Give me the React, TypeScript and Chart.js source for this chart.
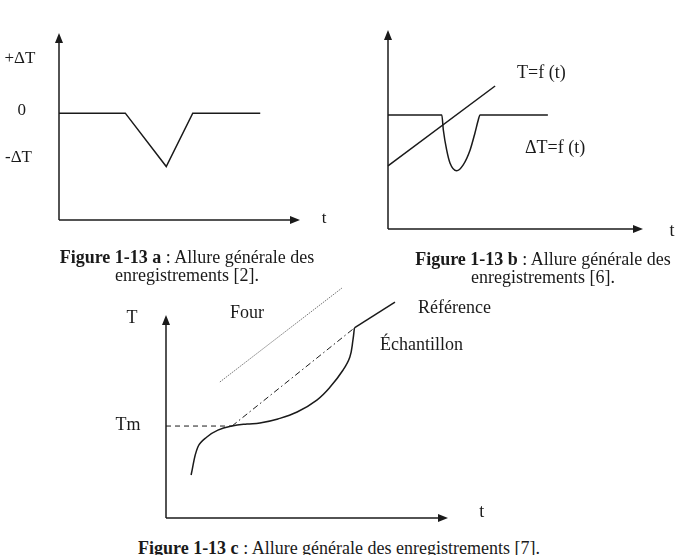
import React, { useEffect, useRef } from 'react';
import { Chart, registerables } from 'chart.js';
Chart.register(...registerables);

const FONT = '"Liberation Serif", "Times New Roman", serif';
const INK = '#1a1a1a';

// ---------- Figure 1-13 a ----------
const tA = [0, 2.75, 4.45, 5.55, 8.35];
const dTA = [0, 0, -2, 0, 0];
const labelsA = ['+ΔT', '0', '-ΔT', 't'];
const labelXA = [-1.62, -1.55, -1.68, 11.0];
const labelYA = [2.05, 0.1, -1.65, -3.95];

// ---------- Figure 1-13 b ----------
const tB = [0, 2.11, 2.17, 2.3, 2.43, 2.69, 2.95, 3.22, 3.41, 3.54, 3.61, 6.27];
const dTB = [0, 0, -0.57, -1.32, -1.81, -2.1, -1.88, -1.32, -0.68, -0.19, 0, 0];
const tLineB = [0, 4.2];
const TLineB = [-1.92, 1.09];
const labelsB = ['T=f (t)', 'ΔT=f (t)', 't'];
const labelXB = [5.06, 5.37, 11.14];
const labelYB = [1.58, -1.24, -4.37];

// ---------- Figure 1-13 c ----------
const tC = [0.89, 1.13, 1.45, 1.84, 2.34, 2.87, 3.33, 3.97, 4.65, 5.35, 5.82, 6.28, 6.52, 6.63, 6.68];
const sampleC = [2.12, 3.5, 3.99, 4.33, 4.53, 4.63, 4.68, 4.88, 5.22, 5.81, 6.45, 7.29, 7.93, 8.77, 9.36];
const refDashT = [2.34, 6.68];
const refDashV = [4.53, 9.36];
const refSolidT = [6.68, 8.12];
const refSolidV = [9.36, 10.64];
const fourT = [1.91, 6.24];
const fourV = [6.7, 11.33];
const tmT = [0, 2.34];
const tmV = [4.53, 4.53];
const labelsC = ['T', 'Tm', 'Four', 'Référence', 'Échantillon', 't'];
const labelXC = [-1.21, -1.35, 2.27, 8.94, 7.59, 11.2];
const labelYC = [9.85, 4.58, 10.1, 10.34, 8.52, 0.3];
const alignC: CanvasTextAlign[] = ['center', 'center', 'left', 'left', 'left', 'center'];

type Ann = { texts: string[]; xs: number[]; ys: number[]; aligns: CanvasTextAlign[]; size: number };

function decorPlugin(ann: Ann) {
  return {
    id: 'decor',
    afterDatasetsDraw(chart: any) {
      const { ctx, chartArea: a, scales } = chart;
      ctx.save();
      ctx.strokeStyle = INK;
      ctx.fillStyle = INK;
      ctx.lineWidth = 1.5;
      ctx.setLineDash([]);
      ctx.beginPath();
      ctx.moveTo(a.left, a.bottom);
      ctx.lineTo(a.left, a.top + 8);
      ctx.stroke();
      ctx.beginPath();
      ctx.moveTo(a.left, a.bottom);
      ctx.lineTo(a.right - 8, a.bottom);
      ctx.stroke();
      ctx.beginPath();
      ctx.moveTo(a.left, a.top);
      ctx.lineTo(a.left - 4, a.top + 10);
      ctx.lineTo(a.left + 4, a.top + 10);
      ctx.closePath();
      ctx.fill();
      ctx.beginPath();
      ctx.moveTo(a.right, a.bottom);
      ctx.lineTo(a.right - 10, a.bottom - 4);
      ctx.lineTo(a.right - 10, a.bottom + 4);
      ctx.closePath();
      ctx.fill();
      ctx.font = `${ann.size}px ${FONT}`;
      ctx.textBaseline = 'middle';
      ann.texts.forEach((t, i) => {
        ctx.textAlign = ann.aligns[i];
        ctx.fillText(t, scales.x.getPixelForValue(ann.xs[i]), scales.y.getPixelForValue(ann.ys[i]));
      });
      ctx.restore();
    },
  };
}

function line(xs: number[], ys: number[], extra: any = {}) {
  return {
    data: xs.map((x, i) => ({ x, y: ys[i] })),
    showLine: true,
    pointRadius: 0,
    borderColor: INK,
    borderWidth: 1.5,
    fill: false,
    clip: false,
    ...extra,
  };
}

type MiniProps = {
  datasets: any[];
  xMin: number; xMax: number; yMin: number; yMax: number;
  padding: { left: number; top: number; right: number; bottom: number };
  ann: Ann;
  left: number; top: number; width: number; height: number;
};

function MiniChart(p: MiniProps) {
  const ref = useRef<HTMLCanvasElement>(null);
  useEffect(() => {
    const chart = new Chart(ref.current as HTMLCanvasElement, {
      type: 'scatter',
      data: { datasets: p.datasets },
      options: {
        responsive: false,
        animation: false,
        devicePixelRatio: 1,
        events: [],
        layout: { padding: p.padding },
        plugins: { legend: { display: false }, tooltip: { enabled: false } },
        scales: {
          x: { type: 'linear', min: p.xMin, max: p.xMax, display: false },
          y: { type: 'linear', min: p.yMin, max: p.yMax, display: false },
        },
      } as any,
      plugins: [decorPlugin(p.ann)],
    });
    return () => chart.destroy();
  }, []);
  return (
    <canvas
      ref={ref}
      width={p.width}
      height={p.height}
      style={{ position: 'absolute', left: p.left, top: p.top, width: p.width, height: p.height }}
    />
  );
}

const capStyle: React.CSSProperties = {
  position: 'absolute',
  fontFamily: FONT,
  fontSize: 18,
  lineHeight: '18px',
  textAlign: 'center',
  color: INK,
  whiteSpace: 'nowrap',
};

export default function App() {
  return (
    <div style={{ position: 'absolute', left: 0, top: 0, width: 686, height: 555, overflow: 'hidden', background: '#fff' }}>
      <MiniChart
        datasets={[line(tA, dTA)]}
        xMin={0} xMax={10} yMin={-4} yMax={3}
        padding={{ left: 59, top: 33, right: 43, bottom: 25 }}
        ann={{ texts: labelsA, xs: labelXA, ys: labelYA, aligns: ['center', 'center', 'center', 'center'], size: 17 }}
        left={0} top={0} width={343} height={245}
      />
      <MiniChart
        datasets={[
          line(tB, dTB, { cubicInterpolationMode: 'monotone' }),
          line(tLineB, TLineB),
        ]}
        xMin={0} xMax={10} yMin={-4.3} yMax={3.2}
        padding={{ left: 45, top: 30, right: 43, bottom: 16 }}
        ann={{ texts: labelsB, xs: labelXB, ys: labelYB, aligns: ['left', 'left', 'center'], size: 18 }}
        left={343} top={0} width={343} height={245}
      />
      <MiniChart
        datasets={[
          line(tC, sampleC, { tension: 0.4 }),
          line(refDashT, refDashV, { borderWidth: 1, borderDash: [6, 3, 1.5, 3] }),
          line(refSolidT, refSolidV),
          line(fourT, fourV, { borderWidth: 1, borderColor: '#777', borderDash: [1.5, 1] }),
          line(tmT, tmV, { borderWidth: 1, borderDash: [5, 4] }),
        ]}
        xMin={0} xMax={10} yMin={0} yMax={10}
        padding={{ left: 76, top: 45, right: 72, bottom: 14 }}
        ann={{ texts: labelsC, xs: labelXC, ys: labelYC, aligns: alignC, size: 18 }}
        left={90} top={270} width={430} height={262}
      />
      <div style={{ ...capStyle, left: 37, top: 248, width: 300 }}>
        <b>Figure 1-13 a</b> : Allure générale des
        <br />
        enregistrements [2].
      </div>
      <div style={{ ...capStyle, left: 393, top: 250, width: 300 }}>
        <b>Figure 1-13 b</b> : Allure générale des
        <br />
        enregistrements [6].
      </div>
      <div style={{ ...capStyle, left: 119, top: 539, width: 440 }}>
        <b>Figure 1-13 c</b> : Allure générale des enregistrements [7].
      </div>
    </div>
  );
}
